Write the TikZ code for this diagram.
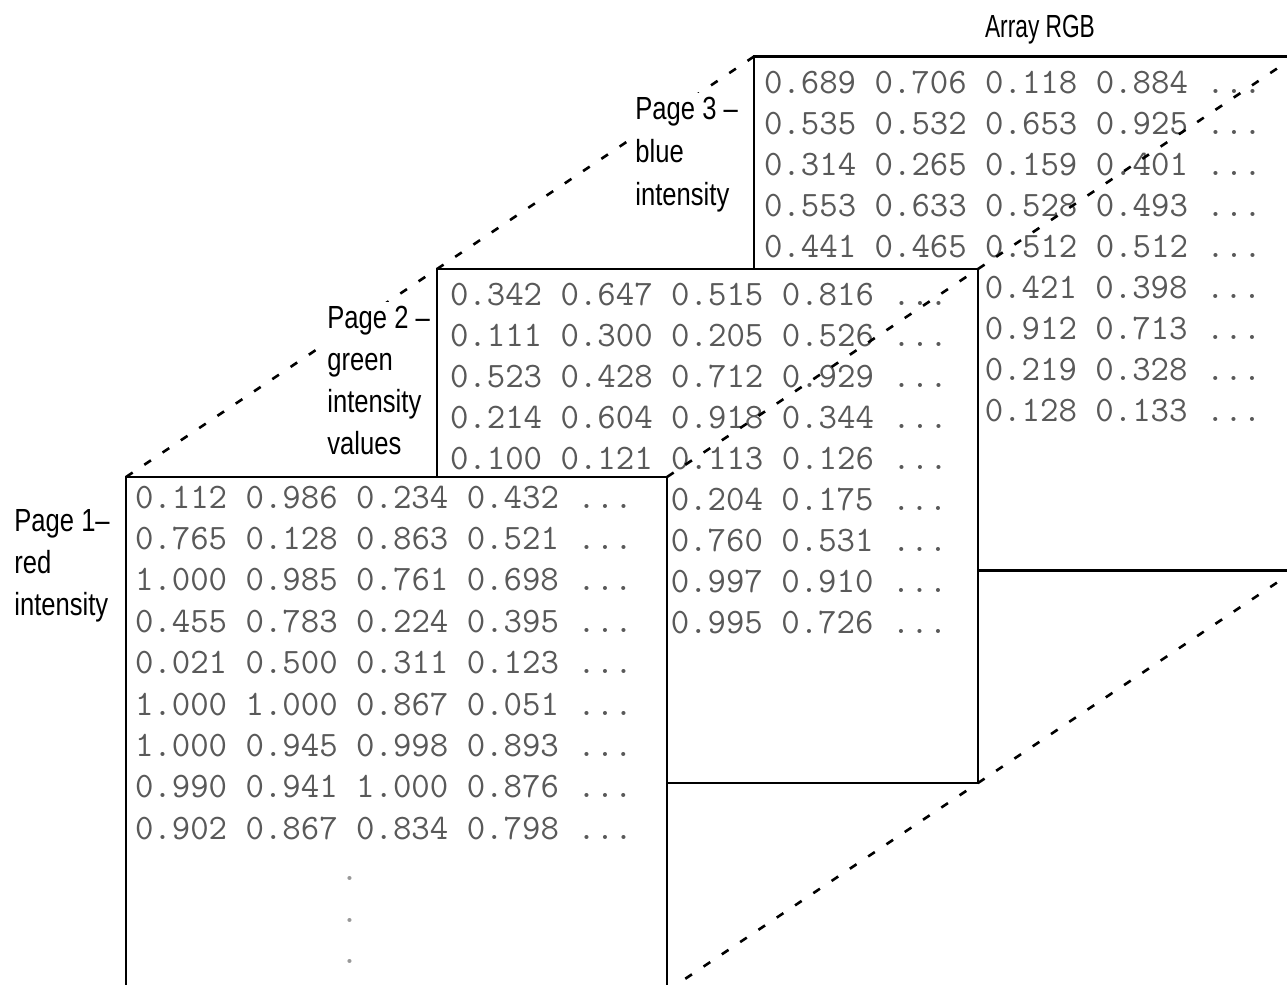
\documentclass[tikz,border=0pt]{standalone}
\usepackage{fontspec}
\newfontfamily\lblfont[FakeStretch=0.8]{Liberation Sans}
\newfontfamily\ttlfont[FakeStretch=0.71]{Liberation Sans}
\begin{document}
\begin{tikzpicture}[x=0.5pt,y=-0.5pt,
  page/.style={draw=black, fill=white, line width=1.3pt, minimum width=270.5pt, minimum height=257pt, inner sep=0pt, outer sep=0pt},
  num/.style={anchor=base west, inner sep=0pt, text=black!65, font=\fontsize{17.9pt}{20pt}\ttfamily},
  vdot/.style={anchor=base west, inner sep=0pt, text=black!40, font=\fontsize{17.9pt}{20pt}\ttfamily},
  lbl/.style={anchor=north west, fill=white, inner sep=2pt, align=left, font=\lblfont\fontsize{16pt}{21pt}\selectfont},
  title/.style={anchor=base, inner sep=0pt, font=\ttlfont\fontsize{16pt}{21pt}\selectfont},
  conn/.style={line width=1.3pt, dash pattern=on 4pt off 7pt}
]
\path[use as bounding box] (0,0) rectangle (1287,985);
\clip (0,0) rectangle (1287,985);

% Page 3 (blue)
\node[page] (p3) at (1024.5,313.5) {};
\node[num] (b1) at (763.6,93)  {0.689 0.706 0.118 0.884 ...};
\node[num] (b2) at (763.6,134) {0.535 0.532 0.653 0.925 ...};
\node[num] (b3) at (763.6,175) {0.314 0.265 0.159 0.401 ...};
\node[num] (b4) at (763.6,216) {0.553 0.633 0.528 0.493 ...};
\node[num] (b5) at (763.6,257) {0.441 0.465 0.512 0.512 ...};
\node[num] (b6) at (984.4,298) {0.421 0.398 ...};
\node[num] (b7) at (984.4,339) {0.912 0.713 ...};
\node[num] (b8) at (984.4,380) {0.219 0.328 ...};
\node[num] (b9) at (984.4,421) {0.128 0.133 ...};

% Page 2 (green)
\node[page] (p2) at (707.5,526) {};
\node[num] (g1) at (449.6,305) {0.342 0.647 0.515 0.816 ...};
\node[num] (g2) at (449.6,346) {0.111 0.300 0.205 0.526 ...};
\node[num] (g3) at (449.6,387) {0.523 0.428 0.712 0.929 ...};
\node[num] (g4) at (449.6,428) {0.214 0.604 0.918 0.344 ...};
\node[num] (g5) at (449.6,469) {0.100 0.121 0.113 0.126 ...};
\node[num] (g6) at (670.4,510) {0.204 0.175 ...};
\node[num] (g7) at (670.4,551) {0.760 0.531 ...};
\node[num] (g8) at (670.4,592) {0.997 0.910 ...};
\node[num] (g9) at (670.4,633) {0.995 0.726 ...};

% Page 1 (red)
\node[page] (p1) at (396.5,734) {};
\node[num] (r1) at (134.6,508)   {0.112 0.986 0.234 0.432 ...};
\node[num] (r2) at (134.6,549.4) {0.765 0.128 0.863 0.521 ...};
\node[num] (r3) at (134.6,590.8) {1.000 0.985 0.761 0.698 ...};
\node[num] (r4) at (134.6,632.2) {0.455 0.783 0.224 0.395 ...};
\node[num] (r5) at (134.6,673.6) {0.021 0.500 0.311 0.123 ...};
\node[num] (r6) at (134.6,715)   {1.000 1.000 0.867 0.051 ...};
\node[num] (r7) at (134.6,756.4) {1.000 0.945 0.998 0.893 ...};
\node[num] (r8) at (134.6,797.8) {0.990 0.941 1.000 0.876 ...};
\node[num] (r9) at (134.6,839.2) {0.902 0.867 0.834 0.798 ...};
\node[vdot] (v1) at (340,880.6) {.};
\node[vdot] (v2) at (340,922)   {.};
\node[vdot] (v3) at (340,963.4) {.};

% connectors between corresponding corners
\draw[conn] (p1.north west) -- (p2.north west) -- (p3.north west);
\draw[conn] (p1.north east) -- (p2.north east) -- (p3.north east);
\draw[conn] (p1.south east) -- (p2.south east) -- (p3.south east);

% labels
\node[title] (t) at (1040,38) {Array RGB};
\node[lbl, font=\lblfont\fontsize{16pt}{21.5pt}\selectfont] (l3) at (631,93)  {Page 3 –\\blue\\intensity};
\node[lbl] (l2) at (323,301.5) {Page 2 –\\green\\intensity\\values};
\node[lbl] (l1) at (10,505.5)  {Page 1–\\red\\intensity};
\end{tikzpicture}
\end{document}
